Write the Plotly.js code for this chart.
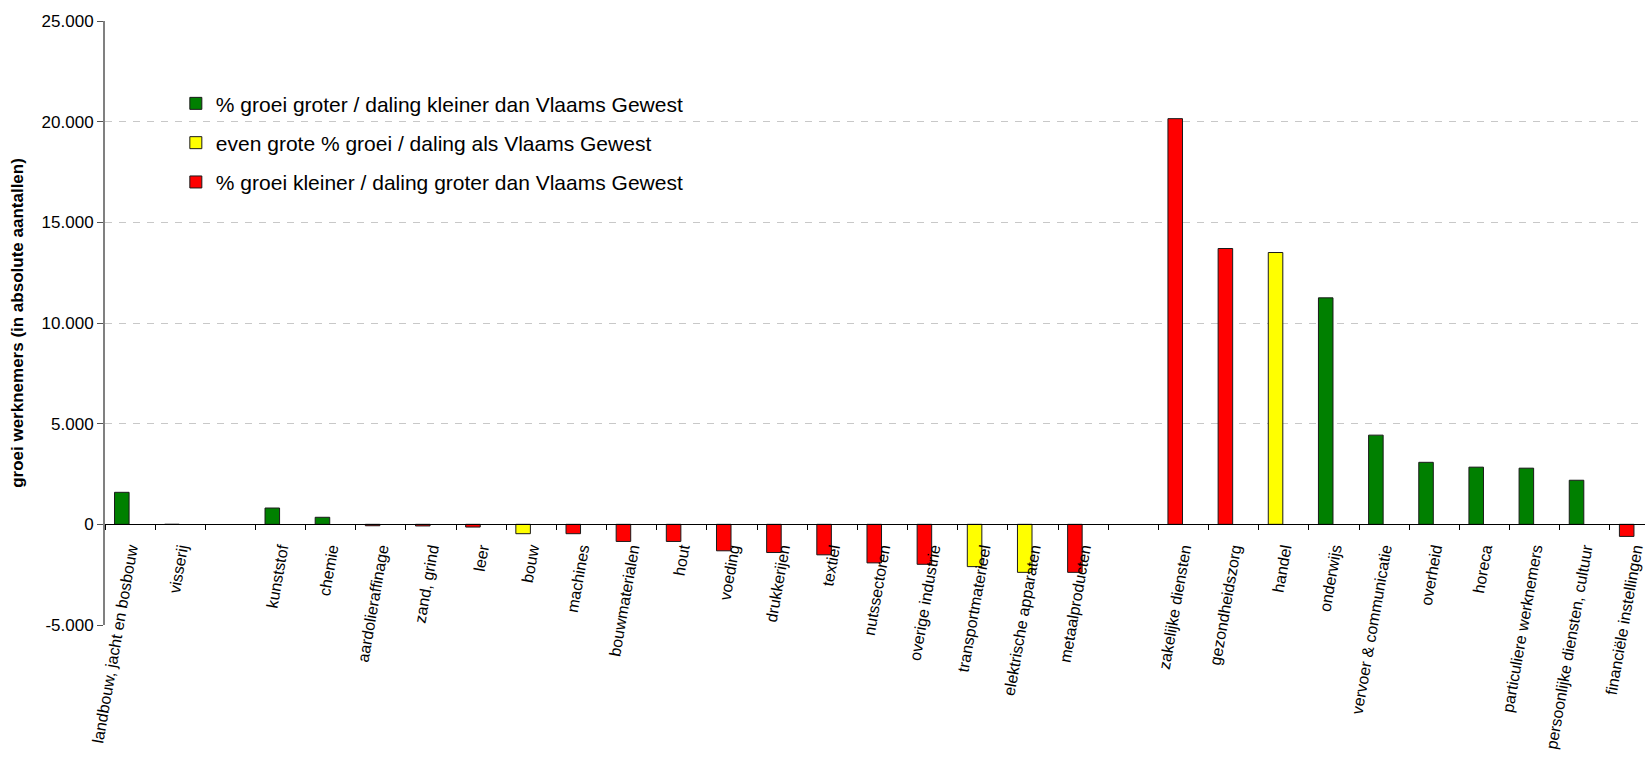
<!DOCTYPE html>
<html>
<head>
<meta charset="utf-8">
<script src="https://cdn.plot.ly/plotly-3.0.1.min.js"></script>
<style>html,body{margin:0;padding:0;background:#fff;}#chart{width:1645px;height:762px;}</style>
</head>
<body>
<div id="chart"></div>
<script>
// Sectors ('' = empty slot on the category axis)
const categories = [
  'landbouw, jacht en bosbouw', 'visserij', '',
  'kunststof', 'chemie', 'aardolieraffinage', 'zand, grind', 'leer', 'bouw',
  'machines', 'bouwmaterialen', 'hout', 'voeding', 'drukkerijen', 'textiel',
  'nutssectoren', 'overige industrie', 'transportmaterieel', 'elektrische apparaten',
  'metaalproducten', '',
  'zakelijke diensten', 'gezondheidszorg', 'handel', 'onderwijs',
  'vervoer & communicatie', 'overheid', 'horeca', 'particuliere werknemers',
  'persoonlijke diensten, cultuur', 'financiële instellingen'
];
// growth in number of employees
const values = [
  1590, 0, null,
  810, 350, -70, -80, -135, -465,
  -465, -850, -850, -1315, -1400, -1515,
  -1915, -1985, -2100, -2385,
  -2385, null,
  20150, 13700, 13500, 11250,
  4430, 3080, 2840, 2790,
  2190, -600
];
// comparison with Vlaams Gewest
const status = [
  'groter', 'groter', null,
  'groter', 'groter', 'kleiner', 'kleiner', 'kleiner', 'even',
  'kleiner', 'kleiner', 'kleiner', 'kleiner', 'kleiner', 'kleiner',
  'kleiner', 'kleiner', 'even', 'even',
  'kleiner', null,
  'kleiner', 'kleiner', 'even', 'groter',
  'groter', 'groter', 'groter', 'groter',
  'groter', 'kleiner'
];
const groups = ['groter', 'even', 'kleiner'];
const groupNames = [
  '% groei groter / daling kleiner dan Vlaams Gewest',
  'even grote % groei / daling als Vlaams Gewest',
  '% groei kleiner / daling groter dan Vlaams Gewest'
];
const groupColors = ['#008000', '#FFFF00', '#FF0000'];
const yTickVals = [-5000, 0, 5000, 10000, 15000, 20000, 25000];
const yTickText = ['-5.000', '0', '5.000', '10.000', '15.000', '20.000', '25.000'];
const yRange = [-5000, 25000];

// unique keys so the empty slots stay separate categories
const keys = categories.map((c, i) => c === '' ? ' '.repeat(i + 1) : c);

const traces = groups.map((g, gi) => ({
  type: 'bar',
  name: groupNames[gi],
  legendgroup: g,
  x: keys,
  y: values.map((v, i) => status[i] === g ? v : null),
  width: 0.29,
  offset: -0.31,
  marker: { color: groupColors[gi], line: { color: '#1a1a1a', width: 1 } },
  hoverinfo: 'x+y'
}));

const font = 'Arial, "Liberation Sans", sans-serif';
const layout = {
  width: 1645, height: 762,
  margin: { l: 105, r: 0, t: 21, b: 137 },
  paper_bgcolor: '#fff', plot_bgcolor: '#fff',
  font: { family: font, color: '#000' },
  barmode: 'overlay',
  showlegend: true,
  legend: {
    x: 0.046, y: 0.897, xanchor: 'left', yanchor: 'top',
    font: { size: 21, family: font },
    bgcolor: 'rgba(0,0,0,0)',
    traceorder: 'grouped', tracegroupgap: 9
  },
  xaxis: {
    type: 'category',
    categoryorder: 'array', categoryarray: keys,
    range: [-0.5, 30.2],
    tickson: 'boundaries',
    ticks: 'outside', ticklen: 5, tickcolor: '#000', tickwidth: 1,
    showline: true, linecolor: '#000', linewidth: 1,
    showgrid: false, zeroline: false,
    anchor: 'free',
    position: (0 - yRange[0]) / (yRange[1] - yRange[0]),
    tickangle: -80,
    ticklabelstandoff: 8,
    tickfont: { size: 16, family: font },
    automargin: false, fixedrange: true
  },
  yaxis: {
    range: yRange,
    tickmode: 'array', tickvals: yTickVals, ticktext: yTickText,
    ticks: 'outside', ticklen: 6, tickcolor: '#555', tickwidth: 1,
    showline: true, linecolor: '#808080', linewidth: 2,
    showgrid: true, gridcolor: '#c8c8c8', gridwidth: 1, griddash: '7px,7px',
    zeroline: false,
    tickfont: { size: 17, family: font },
    title: { text: 'groei werknemers (in absolute aantallen)', font: { size: 17, family: font, weight: 'bold' }, standoff: 14 },
    automargin: false, fixedrange: true
  }
};

Plotly.newPlot('chart', traces, layout, { displayModeBar: false, staticPlot: true });
</script>
</body>
</html>
